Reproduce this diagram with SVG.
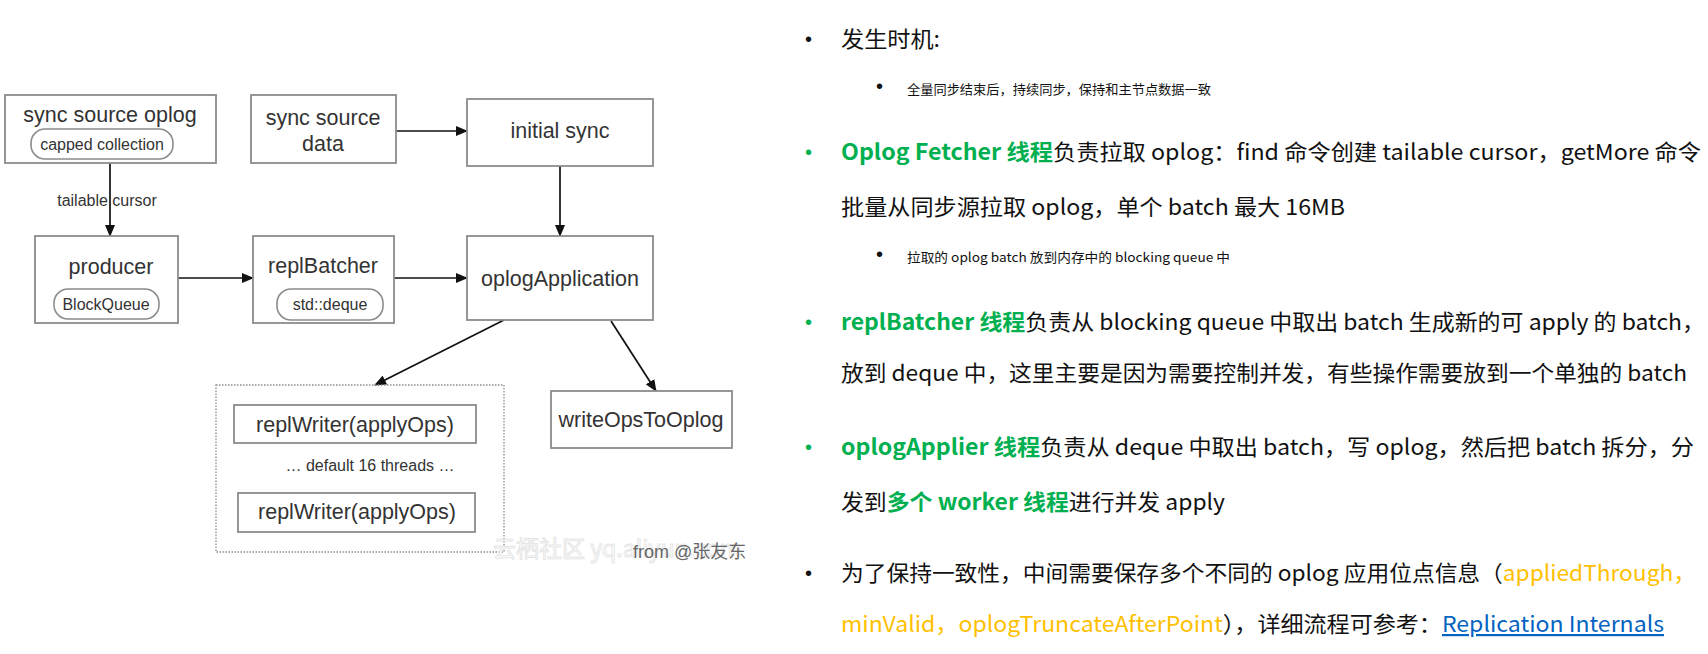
<svg xmlns="http://www.w3.org/2000/svg" width="1708" height="654" viewBox="0 0 1708 654">
<defs>
<marker id="ah" markerUnits="userSpaceOnUse" markerWidth="12" markerHeight="10" refX="11" refY="5" orient="auto">
<path d="M0,0 L12,5 L0,10 z" fill="#111"/>
</marker>
<style>
.box{fill:#fff;stroke:#8c8c8c;stroke-width:1.8}
.pill{fill:#fff;stroke:#8c8c8c;stroke-width:1.6}
.lbl{font-family:"Liberation Sans",Arial,sans-serif;font-size:21.5px;fill:#333;text-anchor:middle}
.sm{font-family:"Liberation Sans",Arial,sans-serif;font-size:16px;fill:#333;text-anchor:middle}
.conn{stroke:#111;stroke-width:1.7;fill:none;marker-end:url(#ah)}
.t{font-family:"Noto Sans CJK SC","Noto Sans",sans-serif;font-size:22px;fill:#111}
.ts{font-family:"Noto Sans CJK SC","Noto Sans",sans-serif;font-size:13px;fill:#111}
.g{fill:#00b050;font-weight:bold}
.o{fill:#ffc000}
.lk{fill:#0563c1;text-decoration:underline}
.bul{font-family:"Liberation Sans",Arial,sans-serif;font-size:20px}
</style>
</defs>
<rect width="1708" height="654" fill="#fff"/>

<g id="connectors">
<line class="conn" x1="110" y1="163" x2="110" y2="236"/>
<line class="conn" x1="178" y1="278" x2="253" y2="278"/>
<line class="conn" x1="396" y1="131" x2="467" y2="131"/>
<line class="conn" x1="560" y1="166" x2="560" y2="236"/>
<line class="conn" x1="393" y1="278" x2="467" y2="278"/>
<line class="conn" x1="504" y1="320" x2="375" y2="385"/>
<line class="conn" x1="611" y1="321" x2="656" y2="391"/>
<text class="sm" x="107" y="206" font-size="15.5">tailable cursor</text>
</g>

<g id="sync-source-oplog">
<rect class="box" x="5" y="95" width="211" height="68"/>
<text class="lbl" x="110" y="122">sync source oplog</text>
<rect class="pill" x="31" y="129" width="142" height="30" rx="14"/>
<text class="sm" x="102" y="150">capped collection</text>
</g>

<g id="sync-source-data">
<rect class="box" x="251" y="95" width="145" height="68"/>
<text class="lbl" x="323" y="125">sync source</text>
<text class="lbl" x="323" y="151">data</text>
</g>

<g id="initial-sync">
<rect class="box" x="467" y="99" width="186" height="67"/>
<text class="lbl" x="560" y="138">initial sync</text>
</g>

<g id="producer">
<rect class="box" x="35" y="236" width="143" height="87"/>
<text class="lbl" x="111" y="274">producer</text>
<rect class="pill" x="54" y="289" width="105" height="30" rx="14"/>
<text class="sm" x="106" y="310">BlockQueue</text>
</g>

<g id="replBatcher">
<rect class="box" x="253" y="236" width="141" height="87"/>
<text class="lbl" x="323" y="273">replBatcher</text>
<rect class="pill" x="277" y="289" width="106" height="31" rx="14"/>
<text class="sm" x="330" y="310">std::deque</text>
</g>

<g id="oplogApplication">
<rect class="box" x="467" y="236" width="186" height="84"/>
<text class="lbl" x="560" y="286">oplogApplication</text>
</g>

<g id="writers">
<rect x="216" y="385" width="288" height="167" fill="none" stroke="#8c8c8c" stroke-width="1.3" stroke-dasharray="1.5,1.5"/>
<g id="replWriter1">
<rect class="box" x="234" y="405" width="242" height="38"/>
<text class="lbl" x="355" y="432">replWriter(applyOps)</text>
</g>
<text class="sm" x="370" y="471" font-size="15">… default 16 threads …</text>
<g id="replWriter2">
<rect class="box" x="238" y="493" width="237" height="39"/>
<text class="lbl" x="357" y="519">replWriter(applyOps)</text>
</g>
</g>

<g id="writeOpsToOplog">
<rect class="box" x="551" y="391" width="181" height="57"/>
<text class="lbl" x="641" y="427">writeOpsToOplog</text>
</g>

<g id="watermark">
<text x="493" y="557" font-family="'Noto Sans CJK SC',sans-serif" font-size="23" fill="#fff" stroke="#e6e6e6" stroke-width="1">云栖社区 yq.aliyun.com</text>
<text x="633" y="558" font-family="'Liberation Sans','Noto Sans CJK SC',sans-serif" font-size="18" fill="#666">from @张友东</text>
</g>

<g id="notes">
<text class="bul" x="805" y="46" fill="#111">•</text>
<text class="t" x="841" y="47" textLength="99" lengthAdjust="spacingAndGlyphs">发生时机:</text>

<text class="bul" x="876" y="93" font-size="12" fill="#111">•</text>
<text class="ts" x="907" y="94" textLength="304" lengthAdjust="spacingAndGlyphs">全量同步结束后，持续同步，保持和主节点数据一致</text>

<text class="bul" x="805" y="159" fill="#00b050">•</text>
<text class="t" x="841" y="160" textLength="860" lengthAdjust="spacingAndGlyphs"><tspan class="g">Oplog Fetcher 线程</tspan>负责拉取 oplog：find 命令创建 tailable cursor，getMore 命令</text>
<text class="t" x="841" y="215" textLength="504" lengthAdjust="spacingAndGlyphs">批量从同步源拉取 oplog，单个 batch 最大 16MB</text>

<text class="bul" x="876" y="261" font-size="12" fill="#111">•</text>
<text class="ts" x="907" y="262" textLength="323" lengthAdjust="spacingAndGlyphs">拉取的 oplog batch 放到内存中的 blocking queue 中</text>

<text class="bul" x="805" y="329" fill="#00b050">•</text>
<text class="t" x="841" y="330" textLength="864" lengthAdjust="spacingAndGlyphs"><tspan class="g">replBatcher 线程</tspan>负责从 blocking queue 中取出 batch 生成新的可 apply 的 batch，</text>
<text class="t" x="841" y="381" textLength="846" lengthAdjust="spacingAndGlyphs">放到 deque 中，这里主要是因为需要控制并发，有些操作需要放到一个单独的 batch</text>

<text class="bul" x="805" y="454" fill="#00b050">•</text>
<text class="t" x="841" y="455" textLength="853" lengthAdjust="spacingAndGlyphs"><tspan class="g">oplogApplier 线程</tspan>负责从 deque 中取出 batch，写 oplog，然后把 batch 拆分，分</text>
<text class="t" x="841" y="510" textLength="384" lengthAdjust="spacingAndGlyphs">发到<tspan class="g">多个 worker 线程</tspan>进行并发 apply</text>

<text class="bul" x="805" y="580" fill="#111">•</text>
<text class="t" x="841" y="581" textLength="855" lengthAdjust="spacingAndGlyphs">为了保持一致性，中间需要保存多个不同的 oplog 应用位点信息（<tspan class="o">appliedThrough，</tspan></text>
<text class="t" x="841" y="632" textLength="823" lengthAdjust="spacingAndGlyphs"><tspan class="o">minValid，oplogTruncateAfterPoint</tspan>），详细流程可参考：<tspan class="lk">Replication Internals</tspan></text>
</g>
</svg>
